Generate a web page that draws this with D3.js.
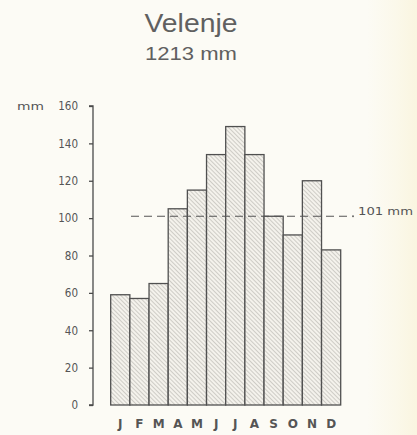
<!DOCTYPE html>
<html>
<head>
<meta charset="utf-8">
<script src="https://cdn.jsdelivr.net/npm/d3@7"></script>
<style>
  html, body { margin: 0; padding: 0; background: #fcfbf5; }
  svg { display: block; }
</style>
</head>
<body>
<script>
// Monthly precipitation, Velenje (mm)
const months = ["J","F","M","A","M","J","J","A","S","O","N","D"];
const precip = [59, 57, 65, 105, 115, 134, 149, 134, 101, 91, 120, 83];
const yTicks = [0, 20, 40, 60, 80, 100, 120, 140, 160];
const station = "Velenje";
const annualTotal = 1213;
const monthlyMean = 101;

const W = 417, H = 435;
const svg = d3.select("body").append("svg").attr("width", W).attr("height", H);

// paper tone, slightly warmer toward the right edge
const defs = svg.append("defs");
const bg = defs.append("linearGradient").attr("id", "paper").attr("x1", "0").attr("x2", "1");
bg.append("stop").attr("offset", "0.88").attr("stop-color", "#fcfbf5");
bg.append("stop").attr("offset", "0.95").attr("stop-color", "#fbf8ea");
bg.append("stop").attr("offset", "1").attr("stop-color", "#faf5e0");
svg.append("rect").attr("width", W).attr("height", H).attr("fill", "url(#paper)");

// diagonal hatching for the bars (falling left to right)
const hatch = defs.append("pattern").attr("id", "hatch")
  .attr("patternUnits", "userSpaceOnUse").attr("width", 3).attr("height", 3)
  .attr("patternTransform", "rotate(45)");
hatch.append("rect").attr("width", 3).attr("height", 3).attr("fill", "#f4f2ec");
hatch.append("line").attr("x1", 0).attr("y1", 0).attr("x2", 3).attr("y2", 0)
  .attr("stroke", "#a8a6a0").attr("stroke-width", 1);

const ink = "#4a4a4a";
const textGrey = "#555";

const y = d3.scaleLinear().domain([0, 160]).range([405, 106]);
const x = d3.scaleBand().domain(d3.range(months.length)).range([110.7, 340.7]).padding(0);

// title
svg.append("text").attr("x", 191).attr("y", 32).attr("text-anchor", "middle")
  .attr("font-family", "Liberation Sans, Arial, sans-serif").attr("font-size", 25)
  .attr("fill", "#606060").attr("textLength", 93).attr("lengthAdjust", "spacingAndGlyphs")
  .text(station);
svg.append("text").attr("x", 191).attr("y", 60).attr("text-anchor", "middle")
  .attr("font-family", "Liberation Sans, Arial, sans-serif").attr("font-size", 18)
  .attr("fill", "#606060").attr("textLength", 92).attr("lengthAdjust", "spacingAndGlyphs")
  .text(annualTotal + " mm");

// y axis
const axis = d3.axisLeft(y).tickValues(yTicks).tickSize(4).tickPadding(11);
const gy = svg.append("g").attr("transform", "translate(93,0)").call(axis);
gy.select(".domain").attr("stroke", ink).attr("stroke-width", 1.3)
  .attr("d", `M-4,${y(160)}H0V${y(0)}H-4`);
gy.selectAll(".tick line").attr("stroke", ink).attr("stroke-width", 1.3);
gy.selectAll(".tick text").attr("fill", textGrey).attr("font-size", 12)
  .attr("font-family", "DejaVu Sans Condensed, DejaVu Sans, sans-serif")
  .attr("textLength", d => String(d).length * 6.6).attr("lengthAdjust", "spacingAndGlyphs");

svg.append("text").attr("x", 17).attr("y", y(160) + 3.5)
  .attr("font-family", "DejaVu Sans Condensed, DejaVu Sans, sans-serif").attr("font-size", 11)
  .attr("fill", textGrey).attr("textLength", 27).attr("lengthAdjust", "spacingAndGlyphs").text("mm");

// bars
svg.append("g").selectAll("rect").data(precip).join("rect")
  .attr("x", (d, i) => x(i))
  .attr("y", d => y(d))
  .attr("width", x.bandwidth())
  .attr("height", d => y(0) - y(d))
  .attr("fill", "url(#hatch)")
  .attr("stroke", "#505050").attr("stroke-width", 1.3);

// monthly mean line
svg.append("line").attr("x1", 131).attr("x2", 350)
  .attr("y1", y(monthlyMean)).attr("y2", y(monthlyMean))
  .attr("stroke", "#555").attr("stroke-width", 1.2).attr("stroke-dasharray", "8,5");
svg.append("circle").attr("cx", 353).attr("cy", y(monthlyMean)).attr("r", 0.9).attr("fill", "#555");
svg.append("text").attr("x", 358).attr("y", y(monthlyMean) - 1)
  .attr("font-family", "DejaVu Sans Condensed, DejaVu Sans, sans-serif").attr("font-size", 11)
  .attr("fill", textGrey).attr("textLength", 55).attr("lengthAdjust", "spacingAndGlyphs")
  .text(monthlyMean + " mm");

// month initials
svg.append("g").selectAll("text").data(months).join("text")
  .attr("x", (d, i) => x(i) + x.bandwidth() / 2)
  .attr("y", 428)
  .attr("text-anchor", "middle")
  .attr("font-family", "DejaVu Sans, sans-serif").attr("font-size", 12).attr("font-weight", 600)
  .attr("fill", textGrey)
  .text(d => d);
</script>
</body>
</html>
